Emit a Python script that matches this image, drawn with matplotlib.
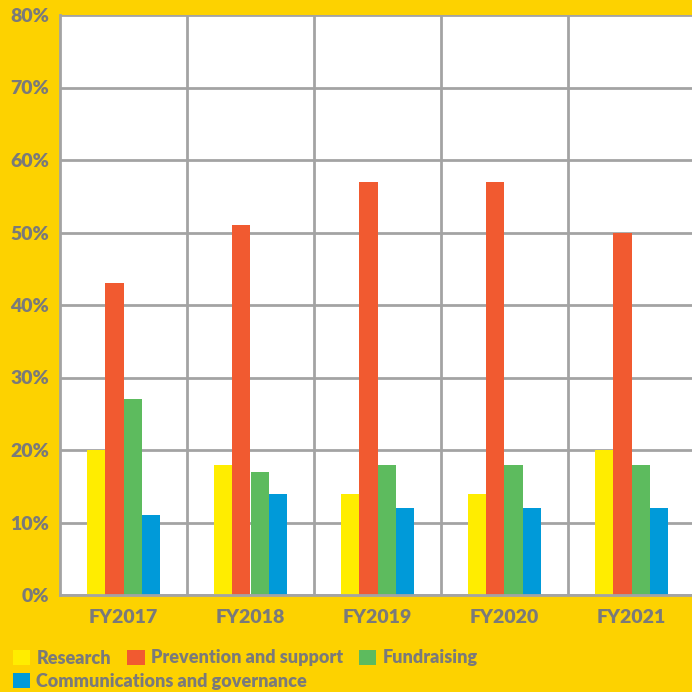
import numpy as np
import matplotlib.pyplot as plt
from matplotlib.patches import Patch

# data
years = ["FY2017", "FY2018", "FY2019", "FY2020", "FY2021"]
research = [20, 18, 14, 14, 20]
prevention = [43, 51, 57, 57, 50]
fundraising = [27, 17, 18, 18, 18]
communications = [11, 14, 12, 12, 12]

series_names = ["Research", "Prevention and support", "Fundraising",
                "Communications and governance"]
colors = ["#FFED00", "#F15A30", "#5DBB5E", "#009AD9"]

bg = "#FDD200"
grey = "#7A7A7A"
gridc = "#A3A3A3"

plt.rcParams['font.family'] = ['Lato', 'DejaVu Sans']
wt = "heavy"

fig = plt.figure(figsize=(6.92, 6.92), dpi=100, facecolor=bg)
ax = fig.add_axes([60 / 692, 97 / 692, 635 / 692, 580 / 692])
ax.set_facecolor("white")

x = np.arange(len(years))
w = 0.144
all_vals = [research, prevention, fundraising, communications]
for i, vals in enumerate(all_vals):
    ax.bar(x + (i - 1.5) * w, vals, w, color=colors[i], zorder=3)

ax.set_xlim(-0.5, len(years) - 0.5)
ax.set_ylim(0, 80)
ax.set_yticks(np.arange(0, 81, 10))
ax.set_yticklabels([f"{v}%" for v in range(0, 81, 10)])
ax.set_xticks(x)
ax.set_xticklabels(years)
ax.set_xticks(np.arange(0.5, len(years) - 0.5, 1), minor=True)

ax.grid(axis="y", which="major", color=gridc, lw=2, zorder=1)
ax.grid(axis="x", which="minor", color=gridc, lw=2, zorder=1)
ax.tick_params(which="both", length=0)
ax.tick_params(axis="y", pad=8, labelsize=14, labelcolor=grey)
ax.tick_params(axis="x", pad=10, labelsize=14, labelcolor=grey)
for lab in ax.get_xticklabels() + ax.get_yticklabels():
    lab.set_fontweight(wt)

for s in ["top", "right"]:
    ax.spines[s].set_visible(False)
for s in ["left", "bottom"]:
    ax.spines[s].set_color(gridc)
    ax.spines[s].set_linewidth(2)
    ax.spines[s].set_zorder(4)

# legend in two rows, like the original
handles = [Patch(facecolor=c) for c in colors]
leg_kw = dict(frameon=False, handlelength=0.95, handleheight=0.95,
              handletextpad=0.35, columnspacing=0.9, borderaxespad=0,
              borderpad=0, prop={"weight": wt, "size": 13})
leg1 = fig.legend(handles[:3], series_names[:3], ncol=3, loc="center left",
                  bbox_to_anchor=(13 / 692, 1 - 658 / 692), **leg_kw)
leg2 = fig.legend(handles[3:], series_names[3:], ncol=1, loc="center left",
                  bbox_to_anchor=(13 / 692, 1 - 681 / 692), **leg_kw)
for leg in (leg1, leg2):
    for t in leg.get_texts():
        t.set_color(grey)

fig.savefig("out.png", dpi=100, facecolor=bg)
